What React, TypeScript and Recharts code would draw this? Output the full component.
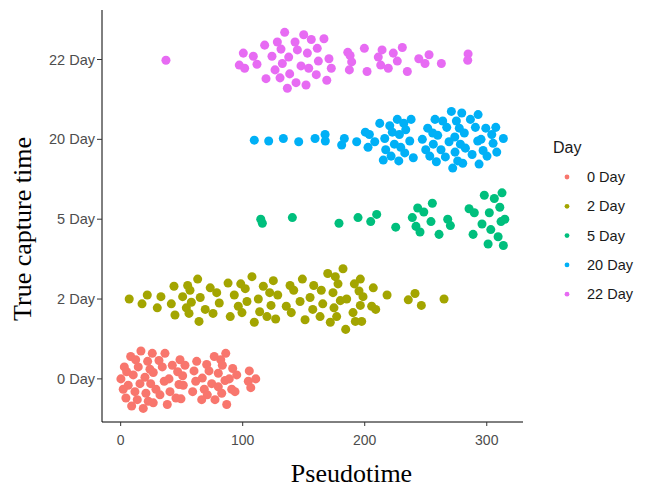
import { ScatterChart, Scatter, XAxis, YAxis, ZAxis, Label, Legend } from "recharts";

// categories on the y axis (bottom to top) and their ggplot hue colours
const dayLabels = ["0 Day", "2 Day", "5 Day", "20 Day", "22 Day"];
const dayColors = ["#F8766D", "#A3A500", "#00BF7D", "#00B0F6", "#E76BF3"];
const xTicks = [0, 100, 200, 300];
const yTicks = [0, 1, 2, 3, 4];

// [pseudotime, vertical jitter]
const day0: [number, number][] = [
  [16.6, 0.35], [25.9, 0.32], [36.3, 0.32], [86.1, 0.32], [76.7, 0.28], [82.0, 0.24], [8.2, 0.28], [12.3, 0.24],
  [22.1, 0.22], [31.4, 0.23], [48.6, 0.24], [62.3, 0.22], [42.3, 0.17], [52.7, 0.17], [70.5, 0.18], [83.3, 0.17],
  [3.0, 0.15], [14.4, 0.15], [24.0, 0.12], [34.1, 0.15], [4.9, 0.09], [10.3, 0.05], [26.7, 0.08], [46.7, 0.09],
  [50.8, 0.04], [60.1, 0.1], [72.4, 0.1], [80.0, 0.07], [91.8, 0.13], [95.1, 0.05], [105.4, 0.1], [0.2, 0.0],
  [19.9, 0.02], [35.7, -0.03], [39.6, 0.0], [61.5, -0.03], [66.9, 0.01], [85.5, -0.02], [89.0, 0.0], [104.6, -0.03],
  [110.7, 0.0], [6.2, -0.08], [15.8, -0.06], [24.6, -0.06], [47.8, -0.07], [51.3, -0.08], [74.6, -0.06], [80.0, -0.1],
  [68.5, -0.13], [106.6, -0.11], [2.1, -0.13], [11.7, -0.16], [28.9, -0.13], [40.4, -0.16], [59.0, -0.16], [91.0, -0.13],
  [93.7, -0.16], [20.7, -0.18], [32.2, -0.2], [71.0, -0.2], [82.8, -0.18], [4.3, -0.24], [13.6, -0.26], [22.6, -0.28],
  [26.7, -0.3], [45.3, -0.24], [49.4, -0.25], [66.4, -0.26], [77.3, -0.26], [9.0, -0.34], [18.5, -0.37], [38.2, -0.32],
  [86.9, -0.32],
];

const day2: [number, number][] = [
  [7.0, 0.0], [21.8, 0.05], [17.5, -0.06], [33.0, 0.03], [30.0, -0.11], [43.7, 0.16], [41.5, -0.06], [44.5, -0.2],
  [50.8, 0.03], [54.9, 0.17], [56.8, 0.11], [53.8, -0.11], [57.9, -0.04], [56.0, -0.18], [63.1, 0.25], [65.2, 0.02],
  [69.3, -0.13], [64.2, -0.28], [73.4, 0.14], [78.7, 0.08], [75.7, -0.18], [80.8, -0.05], [88.0, 0.2], [93.1, 0.05],
  [96.4, -0.09], [89.8, -0.22], [98.4, 0.19], [102.1, 0.13], [99.4, -0.17], [103.5, -0.03], [107.6, 0.28], [112.8, 0.0],
  [113.9, -0.16], [109.5, -0.29], [116.9, 0.16], [122.1, 0.08], [123.2, -0.08], [119.9, -0.22], [125.1, 0.23], [128.7, 0.05],
  [127.0, -0.25], [138.8, 0.17], [141.8, 0.11], [135.7, -0.09], [139.8, -0.17], [148.9, 0.25], [147.0, -0.03], [151.1, -0.26],
  [158.2, 0.17], [164.4, 0.11], [155.2, 0.02], [157.4, -0.13], [163.4, -0.22], [169.7, 0.32], [175.9, 0.28], [182.2, 0.38],
  [178.1, 0.19], [174.0, 0.08], [165.6, -0.06], [174.8, -0.11], [171.8, -0.29], [177.0, -0.22], [180.0, -0.02], [185.2, 0.0],
  [184.4, -0.38], [191.5, 0.19], [196.4, 0.25], [195.3, 0.1], [198.6, 0.03], [190.4, -0.17], [192.3, -0.28], [197.5, -0.28],
  [196.4, -0.08], [205.7, -0.09], [209.0, -0.13], [207.0, 0.14], [218.3, 0.05], [235.7, -0.01], [241.2, 0.07], [246.4, -0.08],
  [265.0, 0.0],
];

const day5: [number, number][] = [
  [114.8, 0.0], [116.1, -0.05], [140.7, 0.02], [178.9, -0.05], [194.5, 0.02], [204.9, -0.03], [209.8, 0.06], [225.4, -0.1],
  [239.0, 0.02], [242.0, -0.09], [245.3, -0.16], [243.4, 0.14], [248.4, 0.09], [255.4, 0.2], [254.3, -0.03], [260.9, -0.19],
  [268.0, 0.0], [270.2, -0.08], [285.5, 0.13], [289.8, 0.08], [298.0, 0.3], [306.2, 0.26], [312.5, 0.33], [310.7, 0.15],
  [302.1, 0.08], [296.1, -0.06], [288.8, -0.19], [303.3, -0.13], [311.7, -0.03], [314.8, 0.0], [309.3, -0.22], [301.1, -0.31],
  [313.6, -0.33],
];

const day20: [number, number][] = [
  [109.5, -0.01], [121.3, -0.02], [133.3, 0.01], [145.9, -0.03], [159.3, 0.01], [167.5, 0.06], [167.7, -0.02], [181.1, -0.07],
  [183.3, 0.01], [193.4, -0.03], [200.5, 0.09], [203.8, 0.06], [202.7, -0.1], [208.2, -0.03], [212.3, 0.2], [220.5, 0.17],
  [226.7, 0.25], [232.0, 0.2], [238.0, 0.25], [222.6, 0.09], [233.6, 0.12], [228.4, 0.06], [216.4, 0.01], [224.3, -0.06],
  [229.5, -0.1], [236.9, -0.02], [217.2, -0.13], [221.6, -0.21], [232.8, -0.17], [215.2, -0.26], [227.9, -0.27], [239.8, -0.23],
  [247.2, 0.0], [251.6, 0.14], [257.6, 0.25], [263.9, 0.23], [267.2, 0.15], [271.0, 0.35], [279.5, 0.33], [275.1, 0.23],
  [286.6, 0.25], [292.9, 0.31], [255.7, 0.08], [259.8, 0.05], [273.8, 0.03], [277.5, 0.14], [281.6, 0.08], [290.7, 0.15],
  [299.2, 0.14], [307.4, 0.15], [304.1, 0.06], [256.2, -0.06], [250.0, -0.13], [262.5, -0.13], [269.1, -0.03], [278.4, -0.06],
  [282.5, -0.11], [292.6, -0.02], [295.3, 0.0], [305.2, -0.05], [253.3, -0.21], [258.7, -0.28], [266.1, -0.22], [274.0, -0.16],
  [276.2, -0.27], [280.3, -0.3], [288.0, -0.19], [297.0, -0.14], [300.2, -0.21], [308.2, -0.16], [313.6, 0.01], [272.1, -0.36],
  [293.7, -0.31],
];

const day22: [number, number][] = [
  [37.1, -0.01], [100.5, 0.08], [97.2, -0.07], [101.6, -0.11], [108.7, 0.04], [111.7, -0.06], [118.0, 0.18], [119.1, -0.24],
  [124.0, 0.04], [128.4, 0.22], [131.4, 0.13], [126.5, -0.13], [132.5, -0.05], [130.6, -0.23], [134.4, 0.34], [137.7, 0.03],
  [138.5, -0.18], [136.6, -0.36], [142.9, 0.22], [144.8, 0.12], [147.8, -0.08], [143.7, -0.29], [150.0, 0.31], [153.0, 0.08],
  [154.1, -0.11], [151.9, -0.32], [156.2, 0.25], [161.1, 0.14], [162.0, -0.02], [160.3, -0.19], [166.6, 0.26], [170.7, 0.01],
  [172.6, -0.11], [168.9, -0.26], [186.1, 0.09], [188.0, 0.05], [189.3, -0.03], [187.4, -0.13], [199.7, 0.14], [201.9, -0.15],
  [211.1, 0.03], [214.2, 0.12], [213.1, -0.07], [219.3, -0.11], [223.4, 0.08], [226.7, -0.02], [230.8, 0.15], [234.9, -0.15],
  [244.3, 0.01], [252.7, 0.06], [249.4, -0.05], [262.8, -0.05], [284.7, 0.07], [284.4, -0.01],
];

const groups = [day0, day2, day5, day20, day22];

const sans = "'Liberation Sans', Arial, sans-serif";
const serif = "'Liberation Serif', 'Times New Roman', serif";

function YTitle(props: any) {
  const { viewBox } = props;
  const cy = viewBox.y + viewBox.height / 2 + 13;
  return (
    <text
      transform={`translate(31, ${cy}) rotate(-90)`}
      textAnchor="middle"
      fontFamily={serif}
      fontSize={26}
      fill="#000"
    >
      True capture time
    </text>
  );
}

function DayLegend() {
  return (
    <svg width={98} height={175}>
      <text x={3} y={17} fontFamily={sans} fontSize={16} fill="#1a1a1a">
        Day
      </text>
      {dayLabels.map((label, i) => (
        <g key={label}>
          <circle cx={17} cy={41 + i * 29.3} r={2.4} fill={dayColors[i]} />
          <text x={37} y={41 + i * 29.3} dy="0.35em" fontFamily={sans} fontSize={14.5} fill="#1a1a1a">
            {label}
          </text>
        </g>
      ))}
    </svg>
  );
}

export default function App() {
  return (
    <div style={{ position: "absolute", left: 0, top: 0, background: "#fff" }}>
      <ScatterChart width={650} height={489} margin={{ top: 10, right: 127, bottom: 0, left: 0 }}>
        <XAxis
          type="number"
          dataKey="x"
          domain={[-15.3, 329.7]}
          ticks={xTicks}
          height={67}
          tickSize={4}
          tickMargin={9}
          axisLine={{ stroke: "#000", strokeWidth: 1 }}
          tickLine={{ stroke: "#333" }}
          tick={{ fill: "#4D4D4D", fontSize: 14, fontFamily: sans }}
        >
          <Label
            value="Pseudotime"
            position="insideBottom"
            offset={7}
            dx={39}
            style={{ fontFamily: serif, fontSize: 26, fill: "#000" }}
          />
        </XAxis>
        <YAxis
          type="number"
          dataKey="y"
          domain={[-0.54, 4.62]}
          ticks={yTicks}
          width={102}
          tickSize={5}
          tickMargin={2}
          tickFormatter={(v: number) => dayLabels[v]}
          axisLine={{ stroke: "#000", strokeWidth: 1 }}
          tickLine={{ stroke: "#333" }}
          tick={{ fill: "#4D4D4D", fontSize: 14.5, fontFamily: sans }}
        >
          <Label content={<YTitle />} />
        </YAxis>
        <ZAxis range={[23, 23]} />
        {groups.map((pts, i) => (
          <Scatter
            key={dayLabels[i]}
            name={dayLabels[i]}
            data={pts.map(([x, j]) => ({ x, y: i + j }))}
            fill={dayColors[i]}
            isAnimationActive={false}
          />
        ))}
        <Legend
          layout="horizontal"
          align="center"
          verticalAlign="middle"
          wrapperStyle={{ left: 550, top: 136, width: 98 }}
          content={() => <DayLegend />}
        />
      </ScatterChart>
    </div>
  );
}
